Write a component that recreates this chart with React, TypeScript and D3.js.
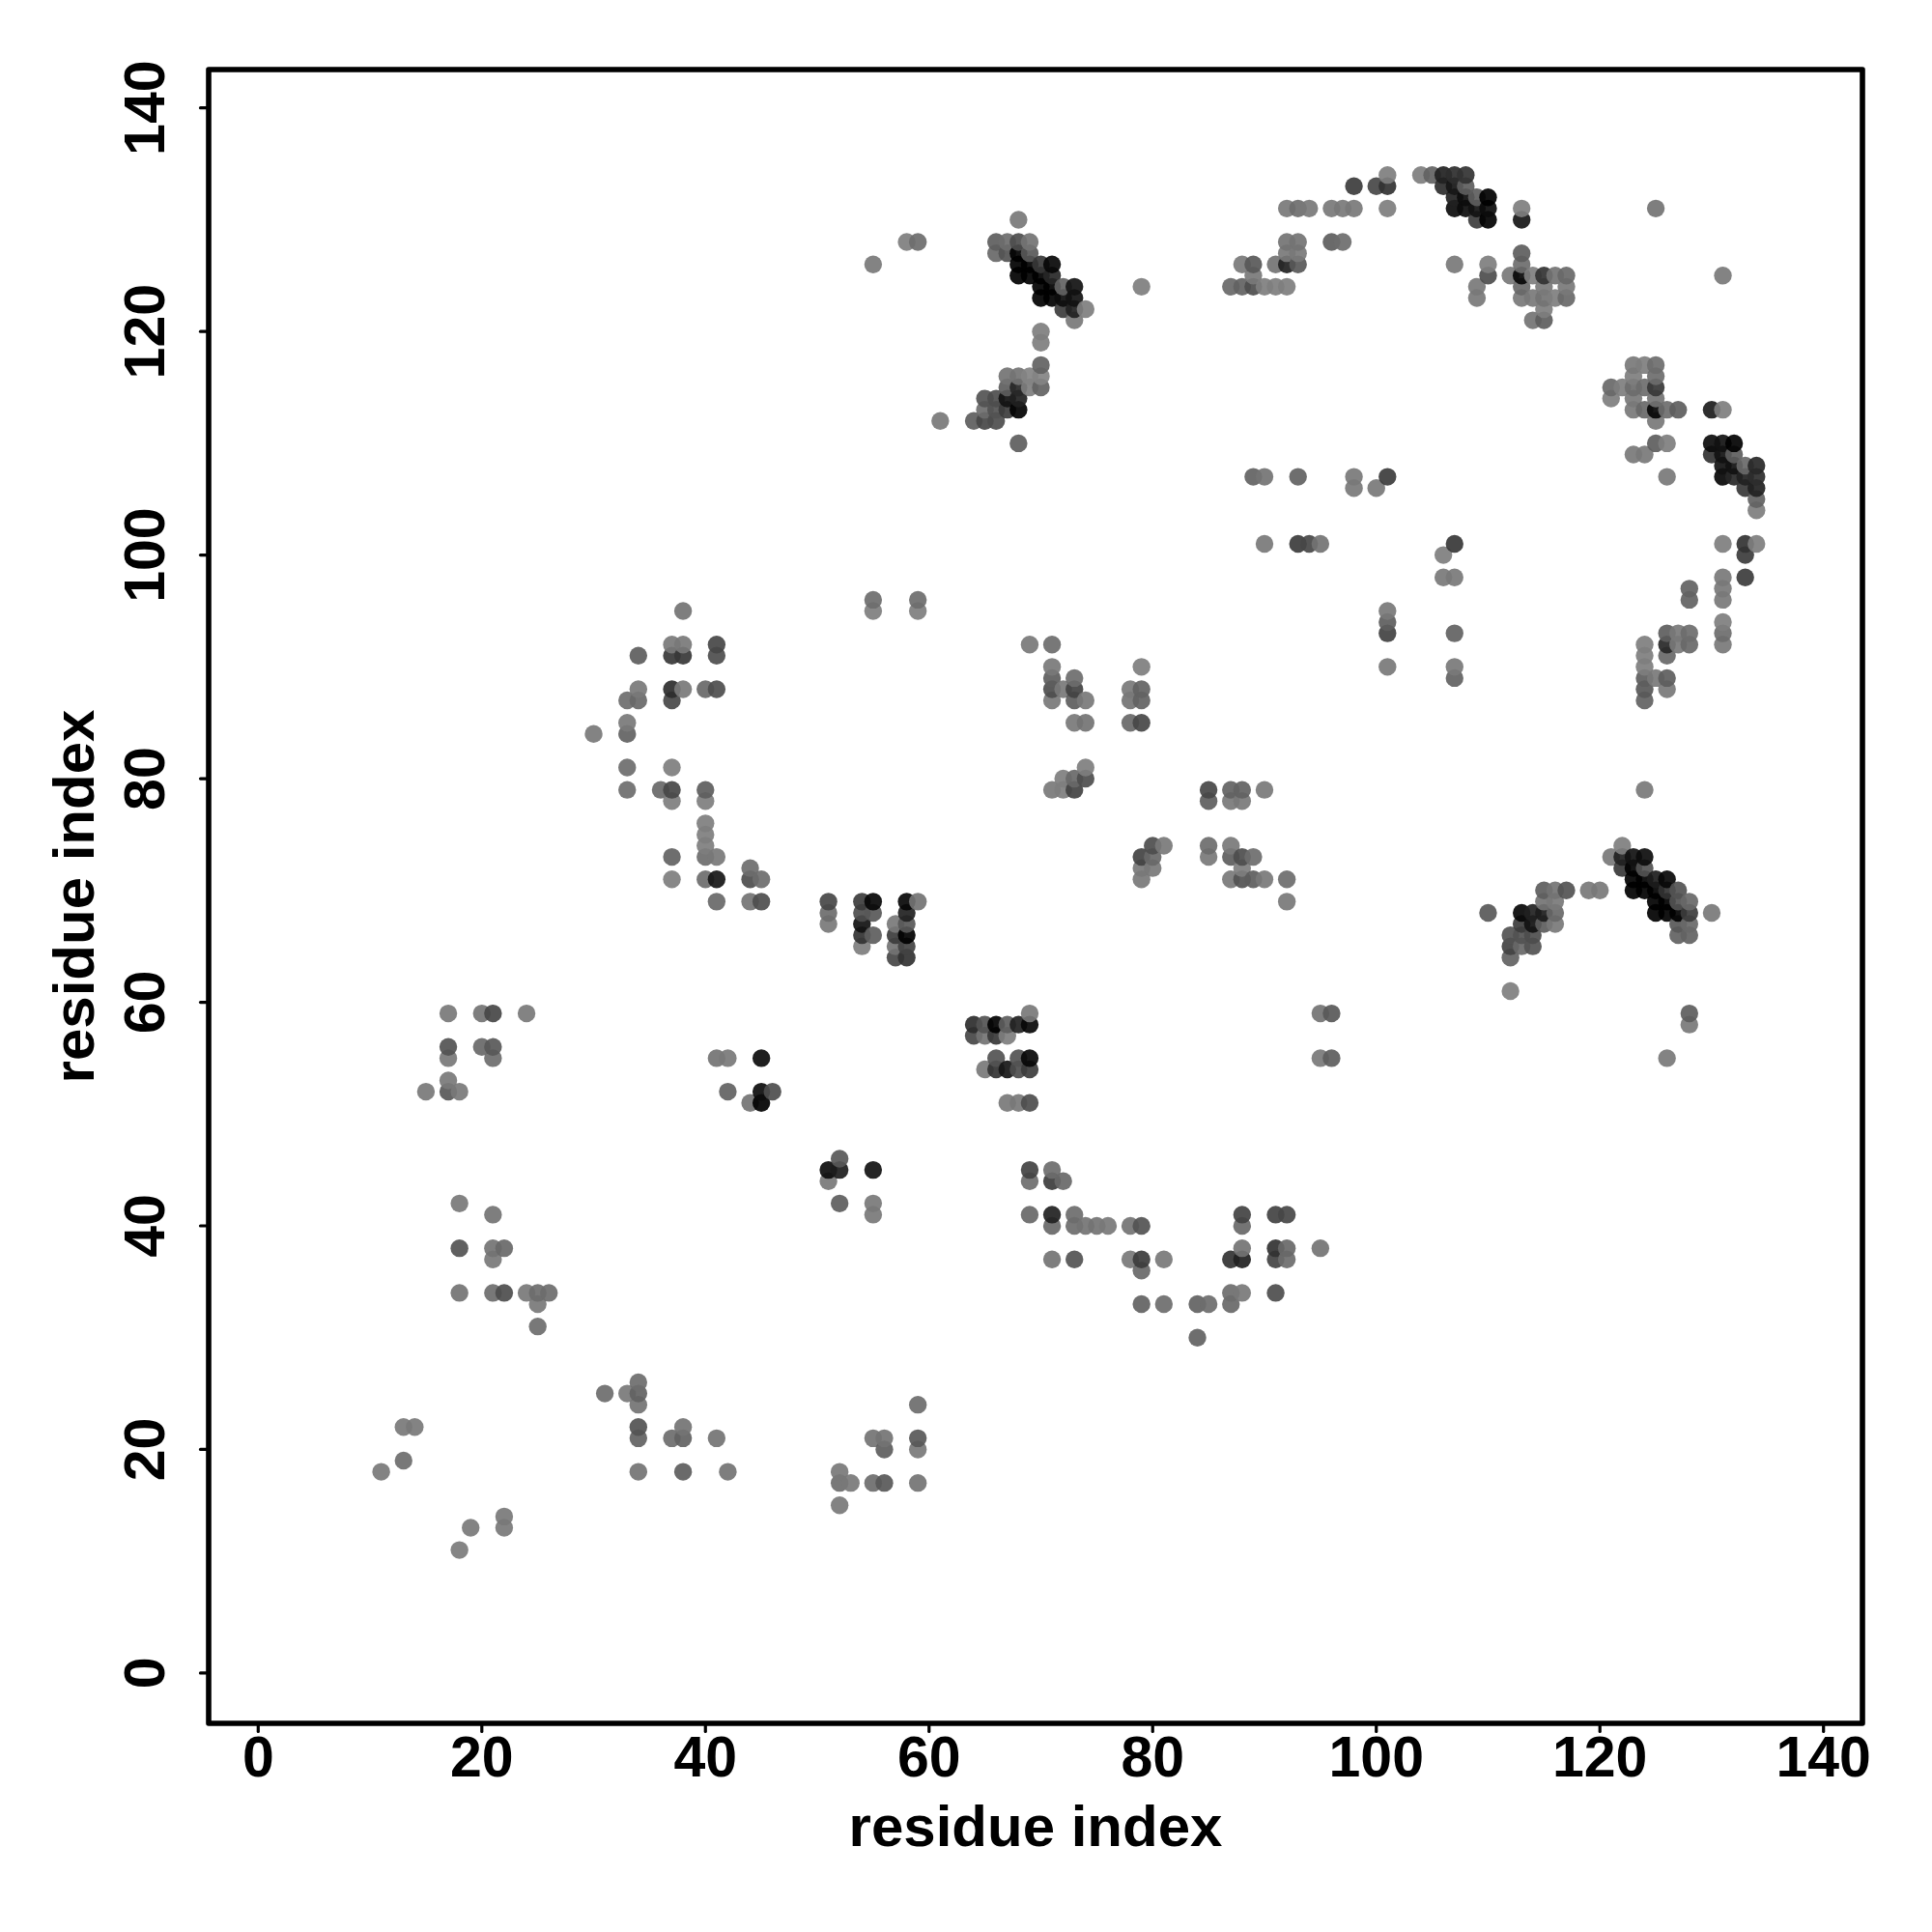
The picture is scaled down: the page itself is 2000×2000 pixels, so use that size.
import React from "react";
import * as d3 from "d3";

// Each contact: [residue i, residue j, displayed grey level]
const lowerLeft = [
  [18,11,128],[19,13,125],[22,14,125],[22,13,125],[11,18,125],[13,19,115],[13,22,125],[14,22,125],
  [31,25,115],[33,25,125],[34,26,115],[34,25,105],[34,24,120],[34,22,90],[34,21,105],[34,18,120],
  [37,21,115],[38,22,120],[38,21,105],[38,18,100],[41,21,120],[42,18,120],
  [52,18,125],[52,17,115],[53,17,125],[52,15,125],[55,21,120],[56,21,120],[56,20,100],[55,17,115],[56,17,95],
  [59,24,115],[59,21,95],[59,20,125],[59,17,120],
];
const farLeft = [
  [18,42,125],[18,38,90],[18,34,120],[21,41,120],[21,38,120],[22,38,110],[21,37,125],[21,34,115],[22,34,85],
  [24,34,125],[25,34,115],[26,34,115],[25,33,125],[25,31,115],
  [17,59,125],[20,59,120],[21,59,80],[24,59,125],[17,56,90],[17,55,125],[20,56,110],[21,56,95],[21,55,115],
  [17,53,125],[17,52,95],[15,52,125],[18,52,125],
];
const middleLeft = [
  [41,55,120],[42,55,125],[45,55,25],[42,52,105],[45,52,25],[46,52,85],[44,51,120],[45,51,10],
  [51,45,25],[52,45,40],[52,46,95],[51,44,125],[52,42,100],[55,45,30],[55,42,125],[55,41,125],
];
const centreBlock = [
  [51,69,80],[51,68,115],[51,67,125],[54,69,70],[54,68,85],[54,67,30],[54,66,60],[54,65,130],
  [55,69,20],[55,68,95],[55,66,100],[57,67,125],[57,66,70],[57,65,120],[57,64,80],
  [58,69,20],[58,68,45],[58,67,95],[58,66,5],[58,65,75],[58,64,60],[59,69,120],
  [69,59,125],[64,58,55],[65,58,90],[66,58,8],[67,58,100],[68,58,45],[69,58,20],
  [64,57,80],[65,57,120],[66,57,65],[67,57,130],[66,55,90],[68,55,90],[69,55,20],
  [65,54,125],[66,54,60],[67,54,35],[68,54,85],[69,54,70],[67,51,125],[68,51,125],[69,51,85],
];
const leftArc = [
  [55,96,115],[55,95,130],[59,96,115],[59,95,130],[38,95,120],[37,92,125],[38,92,125],[41,92,80],
  [34,91,100],[37,91,65],[38,91,65],[41,91,85],[34,88,125],[37,88,55],[38,88,125],[40,88,110],[41,88,85],
  [33,87,115],[34,87,110],[37,87,80],[33,85,125],[33,84,105],[30,84,125],[33,81,115],[37,81,130],
  [33,79,115],[36,79,110],[37,79,80],[40,79,100],[37,78,130],[40,78,130],[40,76,130],[40,75,130],[40,74,130],
  [40,73,115],[41,73,125],[37,73,105],[37,71,130],[40,71,115],[41,71,35],[44,72,115],[44,71,85],[45,71,115],
  [41,69,110],[44,69,120],[45,69,85],
];
const middleBlock = [
  [69,92,125],[71,92,115],[71,90,125],[71,89,100],[71,88,85],[71,87,125],[72,88,125],[73,89,115],[73,88,75],
  [73,87,100],[74,87,125],[73,85,125],[74,85,120],[78,88,125],[78,87,120],[79,90,130],[79,88,105],[79,87,105],
  [78,85,110],[79,85,80],[71,79,125],[72,80,130],[72,79,130],[73,80,110],[73,79,75],[74,81,130],[74,80,85],
  [85,79,80],[85,78,100],[87,79,105],[88,79,105],[87,78,125],[88,78,125],[90,79,125],
  [79,73,75],[80,74,85],[81,74,125],[80,73,110],[80,72,125],[79,72,125],[79,71,125],
  [85,74,115],[85,73,125],[87,74,125],[87,73,100],[88,73,85],[89,73,115],[88,72,130],[87,71,125],[88,71,90],
  [89,71,100],[90,71,125],[92,71,115],[92,69,125],
];
const lowerArc = [
  [69,45,75],[71,45,115],[71,44,70],[72,44,110],[69,44,115],[69,41,110],[71,41,45],[71,40,110],[73,41,115],
  [73,40,115],[74,40,120],[75,40,120],[76,40,125],[78,40,120],[79,40,90],[71,37,120],[73,37,90],[78,37,125],
  [79,37,70],[79,36,110],[81,37,125],[79,33,105],[81,33,115],[84,33,105],[85,33,115],[84,30,105],
  [87,37,60],[88,37,45],[88,38,120],[88,41,75],[88,40,110],[91,41,75],[92,41,80],[91,38,60],[92,38,110],
  [91,37,75],[92,37,115],[95,38,120],[87,34,115],[88,34,125],[87,33,110],[91,34,85],
  [95,59,120],[96,59,95],[95,55,125],[96,55,100],
];
const rightLower = [
  [112,61,130],[110,68,95],[130,68,125],[121,73,125],[122,74,130],[122,73,45],[123,73,30],[124,73,25],
  [122,72,65],[123,72,15],[124,72,90],[123,71,12],[124,71,5],[125,71,40],[126,71,20],[123,70,5],[124,70,5],
  [125,70,5],[126,70,60],[127,70,90],[125,69,5],[126,69,10],[127,69,90],[128,69,110],[125,68,5],[126,68,5],
  [127,68,15],[128,68,70],[127,67,95],[128,67,110],[127,66,105],[128,66,105],
  [113,68,20],[114,68,45],[115,68,40],[114,67,30],[113,67,70],[115,67,100],[116,67,125],[116,68,110],
  [115,69,120],[116,69,125],[115,70,100],[116,70,120],[117,70,90],[119,70,125],[120,70,125],
  [112,66,90],[113,66,90],[114,66,85],[112,65,75],[113,65,110],[114,65,90],[112,64,105],
];
const upperCentre = [
  [68,130,125],[66,128,100],[67,128,115],[68,128,85],[69,128,120],[66,127,110],[67,127,90],[68,127,10],[69,127,95],
  [68,126,5],[69,126,10],[70,126,65],[71,126,20],[68,125,5],[69,125,5],[70,125,5],[71,125,50],
  [70,124,5],[71,124,5],[72,124,105],[73,124,30],[70,123,5],[71,123,10],[72,123,25],[73,123,30],
  [72,122,70],[73,122,45],[74,122,130],[73,121,125],[79,124,130],[70,120,130],[70,119,130],[70,117,105],
  [67,116,120],[68,116,120],[69,116,135],[70,116,135],[70,115,105],[69,115,130],[67,115,100],[68,115,50],
  [68,114,45],[67,114,30],[68,113,15],[65,114,90],[66,114,85],[65,113,115],[66,113,90],[67,113,70],
  [64,112,100],[65,112,80],[66,112,85],[61,112,125],[68,110,100],[55,126,125],[58,128,130],[59,128,115],
];
const topArc = [
  [92,131,125],[93,131,115],[94,131,125],[96,131,125],[97,131,125],[98,131,125],[101,131,130],
  [98,133,70],[100,133,80],[101,133,60],[101,134,130],[104,134,130],[105,134,105],[106,134,45],[107,134,55],[108,134,60],
  [106,133,55],[107,133,35],[108,133,100],[107,132,45],[108,132,25],[109,132,100],[110,132,10],
  [107,131,25],[108,131,25],[109,131,30],[110,131,25],[109,130,70],[110,130,15],[113,131,130],[113,130,35],
  [92,128,120],[93,128,120],[92,127,125],[93,127,125],[91,126,120],[92,126,45],[93,126,95],[96,128,100],[97,128,115],
  [88,126,125],[89,126,95],[89,125,125],[87,124,110],[88,124,105],[89,124,85],[90,124,130],[91,124,130],[92,124,130],
  [107,126,125],[110,126,130],[110,125,85],[109,124,125],[109,123,125],
  [113,127,100],[113,126,115],[113,125,20],[112,125,125],[114,125,130],[115,125,60],[116,125,120],[117,125,110],
  [113,124,110],[113,123,125],[114,123,125],[115,124,125],[115,123,120],[116,123,130],[117,124,125],[117,123,110],
  [115,122,130],[114,121,120],[115,121,100],
];
const rightUpper = [
  [123,117,125],[124,117,130],[125,117,115],[123,116,130],[125,116,115],[121,115,110],[122,115,130],[123,115,115],
  [124,115,115],[125,115,65],[121,114,130],[123,114,125],[125,114,120],[123,113,125],[124,113,110],[125,113,20],
  [126,113,115],[127,113,100],[125,112,125],[125,110,100],[126,110,130],[123,109,125],[124,109,125],[126,107,125],
  [130,113,40],[131,113,130],[130,110,25],[131,110,30],[132,110,15],[130,109,60],[131,109,30],[132,109,100],
  [133,108,110],[134,108,50],[131,108,30],[132,108,30],[131,107,20],[132,107,50],[133,107,45],[134,107,55],
  [133,106,65],[134,106,45],[134,105,105],[134,104,130],[131,101,130],[133,101,60],[134,101,130],[133,100,70],
  [125,131,120],[131,125,125],
];
const rightColumn = [
  [131,98,125],[131,97,125],[131,96,125],[133,98,70],[128,97,105],[128,96,105],[131,94,130],[131,93,115],[131,92,125],
  [126,93,100],[127,93,125],[128,93,115],[126,92,50],[127,92,125],[128,92,110],[126,91,110],
  [124,92,130],[124,91,130],[124,90,130],[124,89,100],[124,88,95],[124,87,105],[125,89,125],[126,89,100],[126,88,125],
  [124,79,125],[126,55,125],[128,59,100],[128,58,125],
];
const upperMiddle = [
  [89,107,105],[90,107,120],[93,107,105],[98,107,125],[98,106,125],[100,106,125],[101,107,70],
  [90,101,125],[93,101,70],[94,101,80],[95,101,120],[107,101,65],[106,100,130],[106,98,125],[107,98,125],
  [101,95,125],[101,94,100],[101,93,75],[101,90,125],[107,93,105],[107,90,125],[107,89,105],
];

const clusters = [lowerLeft, farLeft, middleLeft, centreBlock, leftArc, middleBlock, lowerArc,
  rightLower, upperCentre, topArc, rightUpper, rightColumn, upperMiddle];
const tickValues = [0, 20, 40, 60, 80, 100, 120, 140];
const axisTitle = "residue index";

const FONT = "'Liberation Sans', Arial, sans-serif";
const ALPHA = 0.92;

export default function App() {
  const x = d3.scaleLinear().domain([0, 140]).range([267.3, 1887.7]);
  const y = d3.scaleLinear().domain([0, 140]).range([1731.9, 111.7]);
  const contacts = clusters.flat().slice().sort((a, b) => d3.ascending(a[0], b[0]) || d3.ascending(a[1], b[1]));
  const fillFor = (g: number) => {
    const v = Math.max(0, Math.round(255 - (255 - (g + 6)) / ALPHA));
    return d3.rgb(v, v, v).formatHex();
  };
  const panel = { l: 216, r: 1928, t: 72, b: 1784 };
  return (
    <svg width={2000} height={2000} style={{ position: "absolute", left: 0, top: 0, background: "#fff" }}>
      {contacts.map((c, k) => (
        <circle key={k} cx={x(c[0])} cy={y(c[1])} r={9.2} fill={fillFor(c[2])} fillOpacity={ALPHA} />
      ))}
      <rect x={panel.l} y={panel.t} width={panel.r - panel.l} height={panel.b - panel.t}
        fill="none" stroke="#000" strokeWidth={5.6} strokeLinejoin="round" />
      {tickValues.map((t) => (
        <g key={t}>
          <line x1={x(t)} x2={x(t)} y1={panel.b} y2={panel.b + 8.5} stroke="#000" strokeWidth={3.2} strokeLinecap="round" />
          <text x={x(t)} y={1838.5} textAnchor="middle" fontFamily={FONT} fontWeight="bold" fontSize={59}>{t}</text>
          <line x1={panel.l} x2={panel.l - 8.5} y1={y(t)} y2={y(t)} stroke="#000" strokeWidth={3.2} strokeLinecap="round" />
          <text transform={`translate(170,${y(t)}) rotate(-90)`} textAnchor="middle" fontFamily={FONT} fontWeight="bold" fontSize={59}>{t}</text>
        </g>
      ))}
      <text x={1072} y={1911} textAnchor="middle" fontFamily={FONT} fontWeight="bold" fontSize={60}>{axisTitle}</text>
      <text transform="translate(97,928) rotate(-90)" textAnchor="middle" fontFamily={FONT} fontWeight="bold" fontSize={60}>{axisTitle}</text>
    </svg>
  );
}
